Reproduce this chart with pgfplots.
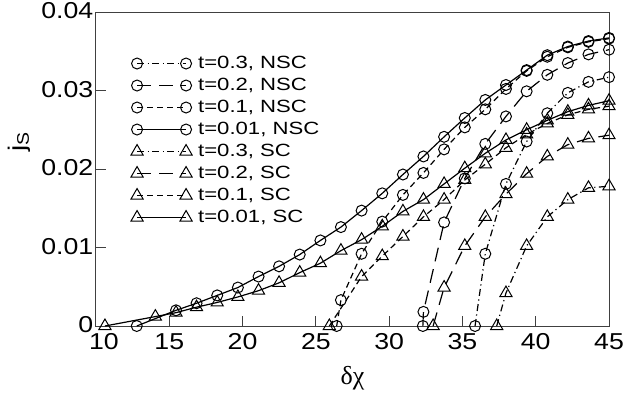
\documentclass[border=0pt]{standalone}
\usepackage{fontspec}
\setmainfont{Liberation Sans}[FakeStretch=1.16]
\newfontfamily\legfont{Liberation Sans}[FakeStretch=1.25]
\newfontfamily\grk{Liberation Serif}
\usepackage{pgfplots}
\pgfplotsset{compat=1.18}
\tikzset{
  dashdot/.style={dash pattern=on 7pt off 3.5pt on 1.2pt off 3.5pt},
  longdash/.style={dash pattern=on 14pt off 8pt},
  shortdash/.style={dash pattern=on 6pt off 4pt},
  nsc/.style={mark=o, mark size=5.5pt, mark options={solid, line width=1pt}},
  sc/.style={mark=triangle, mark size=7pt, mark options={solid, line width=1pt}},
}
\begin{document}
\begin{tikzpicture}
\useasboundingbox (-96pt,-73pt) rectangle (543pt,326pt);
\begin{axis}[
  at={(0pt,0pt)}, anchor=south west,
  scale only axis, width=513pt, height=314pt,
  xmin=10, xmax=45, ymin=0, ymax=0.04,
  xtick={10,15,20,25,30,35,40,45},
  xticklabels={\hspace*{16pt}10,15,20,25,30,35,40,45},
  ytick={0,0.01,0.02,0.03,0.04},
  yticklabels={\raisebox{2pt}{0},0.01,0.02,0.03,0.04},
  scaled ticks=false,
  tick pos=left, tick align=inside, major tick length=10pt,
  tick style={line width=1pt, black!75},
  axis line style={line width=1pt, black!75},
  ticklabel style={font=\fontsize{23}{27}\selectfont},
  yticklabel style={inner xsep=2.5pt, inner ysep=0pt, yshift=1pt},
  xticklabel style={inner ysep=0pt, yshift=-7pt},
  xlabel={\grk δχ},
  xlabel style={font=\fontsize{26}{30}\selectfont, at={(axis description cs:0.5,-0.166)}, anchor=center},
  ylabel={j\textsubscript{S}},
  ylabel style={font=\fontsize{24}{28}\selectfont, at={(axis description cs:-0.150,0.586)}, anchor=center},
  every axis plot/.append style={line width=1.2pt, black},
  legend style={draw=none, fill=none, at={(axis description cs:0.062,0.87)}, anchor=north west,
    font=\legfont\fontsize{17.7}{20}\selectfont, row sep=5pt, column sep=6pt,
    nodes={inner sep=0pt, text height=13pt, text depth=4pt}},
  legend cell align=left,
  legend image code/.code={
    \draw[mark repeat=2,mark phase=1,#1] plot coordinates {(0pt,0pt) (24.5pt,0pt) (49pt,0pt)};
  },
]
% t=0.3 NSC
\addplot[dashdot, nsc] coordinates {
(35.86,0) (36.56,0.0092) (37.97,0.0181) (39.38,0.0235) (40.79,0.0271)
(42.19,0.0297) (43.60,0.0311) (45.00,0.0317)};
\addlegendentry{t=0.3, NSC}
% t=0.2 NSC
\addplot[longdash, nsc] coordinates {
(32.30,0) (32.34,0.0018) (33.75,0.0132) (35.16,0.0188) (36.56,0.0232) (37.97,0.0267)
(39.38,0.0299) (40.79,0.0320) (42.19,0.0335) (43.60,0.0346) (45.00,0.0352)};
\addlegendentry{t=0.2, NSC}
% t=0.1 NSC
\addplot[shortdash, nsc] coordinates {
(26.42,0) (26.71,0.0033) (28.12,0.0092) (29.53,0.0133) (30.94,0.0167) (32.34,0.0195)
(33.75,0.0225) (35.16,0.0253) (36.56,0.0276) (37.97,0.0302) (39.38,0.0325)
(40.79,0.0343) (42.19,0.0355) (43.60,0.0362) (45.00,0.0366)};
\addlegendentry{t=0.1, NSC}
% t=0.01 NSC
\addplot[solid, nsc] coordinates {
(12.78,0) (15.46,0.0020) (16.86,0.0029) (18.27,0.0039) (19.68,0.0049)
(21.09,0.0063) (22.49,0.0076) (23.90,0.0091) (25.31,0.0109) (26.71,0.0126)
(28.12,0.0147) (29.53,0.0169) (30.94,0.0193) (32.34,0.0216) (33.75,0.0241)
(35.16,0.0265) (36.56,0.0288) (37.97,0.0307) (39.38,0.0326) (40.79,0.0345)
(42.19,0.0356) (43.60,0.0363) (45.00,0.0367)};
\addlegendentry{t=0.01, NSC}
% t=0.3 SC
\addplot[dashdot, sc] coordinates {
(37.34,0) (37.97,0.0042) (39.38,0.0102) (40.79,0.0139) (42.19,0.0161)
(43.60,0.0176) (45.00,0.0178)};
\addlegendentry{t=0.3, SC}
% t=0.2 SC
\addplot[longdash, sc] coordinates {
(33.00,0) (33.75,0.0049) (35.16,0.0102) (36.56,0.0139) (37.97,0.0168)
(39.38,0.0194) (40.79,0.0216) (42.19,0.0231) (43.60,0.0239) (45.00,0.0243)};
\addlegendentry{t=0.2, SC}
% t=0.1 SC
\addplot[shortdash, sc] coordinates {
(25.92,0) (28.12,0.0063) (29.53,0.0089) (30.94,0.0114) (32.34,0.0139)
(33.75,0.0161) (35.16,0.0186) (36.56,0.0206) (37.97,0.0227) (39.38,0.0244)
(40.79,0.0258) (42.19,0.0269) (43.60,0.0276) (45.00,0.0280)};
\addlegendentry{t=0.1, SC}
% t=0.01 SC
\addplot[solid, sc] coordinates {
(10.61,0) (14.05,0.0012) (15.46,0.0017) (16.86,0.0024) (18.27,0.0030)
(19.68,0.0037) (21.09,0.0045) (22.49,0.0055) (23.90,0.0068) (25.31,0.0080)
(26.71,0.0096) (28.12,0.0110) (29.53,0.0127) (30.94,0.0146) (32.34,0.0161)
(33.75,0.0181) (35.16,0.0201) (36.56,0.0220) (37.97,0.0237) (39.38,0.0250)
(40.79,0.0262) (42.19,0.0273) (43.60,0.0281) (45.00,0.0287)};
\addlegendentry{t=0.01, SC}
\end{axis}
\end{tikzpicture}
\end{document}
